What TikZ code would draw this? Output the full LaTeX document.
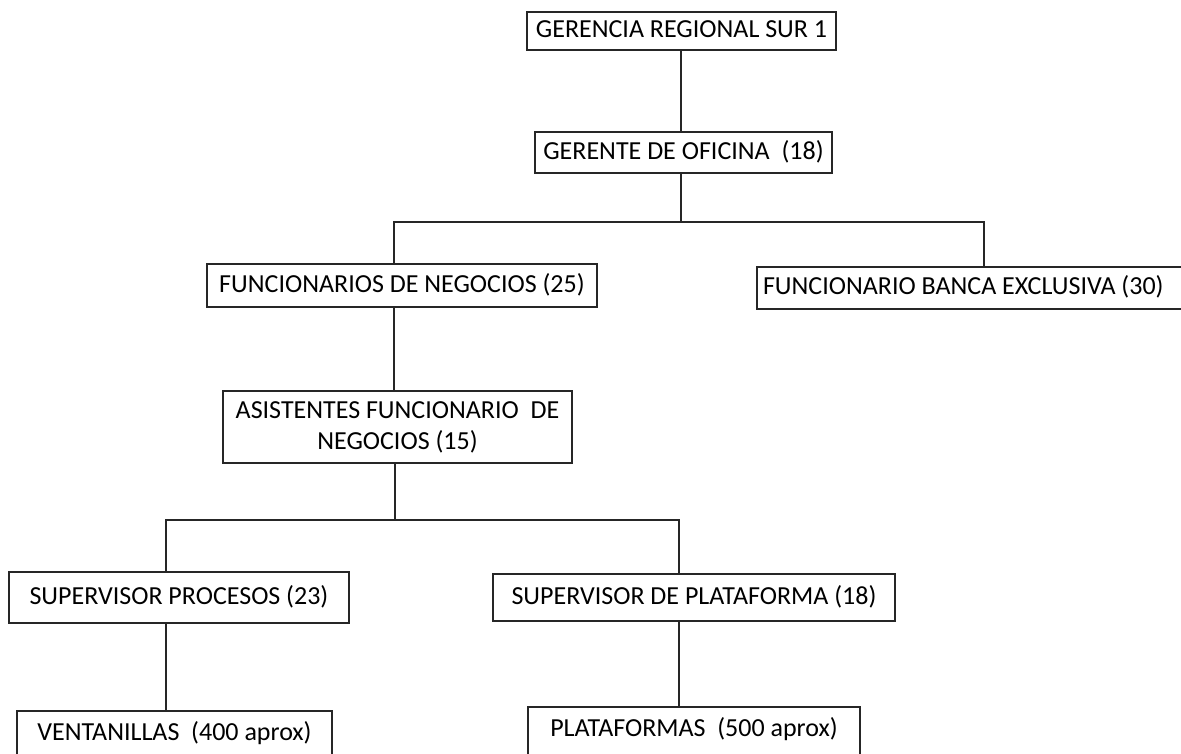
\documentclass[tikz,border=0pt]{standalone}
\usepackage{fontspec}
\setmainfont{Carlito}
\begin{document}
\begin{tikzpicture}[x=1pt,y=-1pt,
  box/.style={draw=black!85, line width=1.9pt, rectangle, inner sep=0pt,
    font=\fontsize{26}{31}\selectfont, text=black, align=center},
  oneline/.style={text height=18pt, text depth=5pt},
  cutbox/.style={text height=18pt, text depth=60pt, inner ysep=12pt, anchor=north},
  conn/.style={draw=black!85, line width=1.9pt}]
\useasboundingbox (0,0) rectangle (1181,753);
\clip (0,0) rectangle (1181,753);
\node[box,oneline,minimum width=309pt,minimum height=38pt] (a) at (681.5,31) {GERENCIA REGIONAL SUR 1};
\node[box,oneline,minimum width=297pt,minimum height=41pt] (b) at (683.5,152.5) {GERENTE DE OFICINA\ \ (18)};
\node[box,oneline,minimum width=390pt,minimum height=43pt] (c) at (402,285.5) {FUNCIONARIOS DE NEGOCIOS (25)};
\node[box,oneline,minimum height=42pt,inner xsep=6pt] (d) at (973.5,288) {\makebox[421pt][l]{FUNCIONARIO BANCA EXCLUSIVA (30)}};
\node[box,minimum width=349pt,minimum height=72pt] (e) at (397.5,427) {ASISTENTES FUNCIONARIO\ \ DE\\NEGOCIOS (15)\ };
\node[box,oneline,minimum width=340pt,minimum height=51pt] (f) at (179,597.5) {SUPERVISOR PROCESOS (23)};
\node[box,oneline,minimum width=402pt,minimum height=47pt] (g) at (694,597.5) {SUPERVISOR DE PLATAFORMA (18)};
\node[box,cutbox,minimum width=315pt] (h) at (174.5,710) {VENTANILLAS\ \ (400 aprox)};
\node[box,cutbox,minimum width=332pt] (i) at (694,706) {PLATAFORMAS\ \ (500 aprox)};
\coordinate (j0) at (681,0);
\coordinate (j1) at (681,222);
\coordinate (cl) at (394,222);
\coordinate (dr) at (984,222);
\coordinate (j2) at (395,520);
\coordinate (fl) at (166,520);
\coordinate (gr) at (679,520);
\draw[conn] (j0 |- a.south) -- (j0 |- b.north);
\draw[conn] (j1 |- b.south) -- (j1);
\draw[conn] (cl |- c.north) -- (cl) -- (dr) -- (dr |- d.north);
\draw[conn] (cl |- c.south) -- (cl |- e.north);
\draw[conn] (j2 |- e.south) -- (j2);
\draw[conn] (fl |- f.north) -- (fl) -- (gr) -- (gr |- g.north);
\draw[conn] (fl |- f.south) -- (fl |- h.north);
\draw[conn] (gr |- g.south) -- (gr |- i.north);
\end{tikzpicture}
\end{document}
